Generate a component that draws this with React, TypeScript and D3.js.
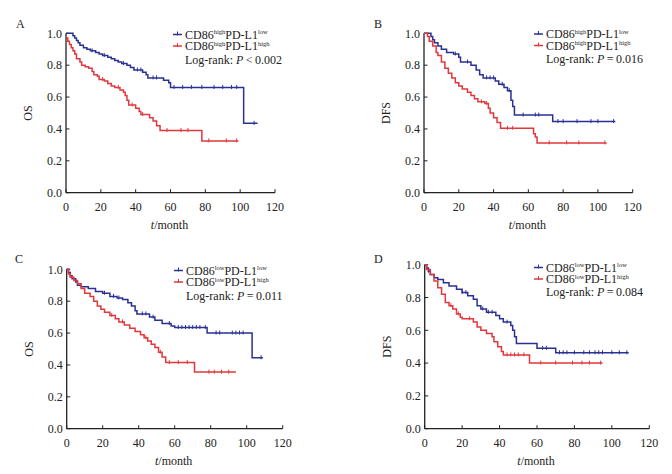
import React from "react";
import * as d3 from "d3";

// ---------- data ----------
const xTicks = [0, 20, 40, 60, 80, 100, 120];
const yTicks = [0, 0.2, 0.4, 0.6, 0.8, 1.0];

// Panel A (OS, CD86 high)
const aBlue: [number, number][] = [[0,1],[4,0.985],[5,0.97],[6,0.955],[7,0.94],[8,0.925],[10,0.91],[12,0.9],[14,0.89],[17,0.88],[19,0.87],[21,0.86],[24,0.85],[26,0.84],[28,0.83],[30,0.82],[32,0.81],[35,0.8],[37,0.785],[39,0.77],[44,0.755],[46,0.74],[47,0.72],[56,0.705],[59,0.69],[60,0.66],[102,0.435]];
const aBlueEnd = 110;
const aBlueCens = [15,22,33,41,43,50,52,62,67,72,78,85,90,95,98,108];
const aRed: [number, number][] = [[0,0.97],[1,0.95],[2,0.93],[3,0.91],[4,0.89],[5,0.87],[6,0.84],[8,0.82],[9,0.8],[11,0.79],[13,0.78],[15,0.76],[16,0.74],[18,0.73],[19,0.71],[22,0.7],[24,0.685],[26,0.67],[28,0.66],[31,0.645],[33,0.63],[34,0.61],[35,0.58],[36,0.55],[40,0.53],[42,0.51],[43,0.49],[48,0.47],[50,0.45],[52,0.42],[54,0.39],[78,0.325]];
const aRedEnd = 99;
const aRedCens = [21,30,38,44,58,66,70,82,92,98];

// Panel B (DFS, CD86 high)
const bBlue: [number, number][] = [[0,1],[4,0.98],[5,0.96],[6,0.94],[8,0.92],[10,0.9],[13,0.88],[17,0.87],[20,0.85],[21,0.82],[27,0.8],[30,0.77],[32,0.74],[34,0.72],[41,0.7],[43,0.68],[46,0.66],[48,0.64],[50,0.58],[51,0.54],[52,0.487],[74,0.446]];
const bBlueEnd = 110;
const bBlueCens = [18,25,36,38,40,45,49,57,64,66,77,80,88,96,100,109];
const bRed: [number, number][] = [[0,1],[2,0.98],[3,0.95],[5,0.92],[7,0.88],[8,0.86],[10,0.82],[12,0.78],[14,0.75],[16,0.72],[18,0.69],[20,0.67],[22,0.65],[25,0.63],[27,0.61],[29,0.59],[31,0.57],[35,0.56],[37,0.53],[38,0.5],[40,0.47],[42,0.44],[44,0.404],[63,0.37],[64,0.35],[65,0.312]];
const bRedEnd = 105;
const bRedCens = [33,36,48,51,72,82,89,104];

// Panel C (OS, CD86 low)
const cBlue: [number, number][] = [[0,1],[1,0.98],[2,0.96],[3,0.94],[5,0.92],[6,0.9],[8,0.89],[12,0.88],[16,0.86],[20,0.85],[24,0.83],[28,0.82],[31,0.81],[34,0.79],[36,0.77],[38,0.74],[39,0.72],[46,0.7],[49,0.68],[53,0.66],[58,0.645],[60,0.635],[78,0.6],[103,0.445]];
const cBlueEnd = 109;
const cBlueCens = [2,21,26,29,42,44,48,57,62,64,66,68,70,72,74,77,83,85,92,94,96,98,108];
const cRed: [number, number][] = [[0,1],[1,0.97],[2,0.95],[4,0.93],[6,0.91],[8,0.88],[10,0.85],[13,0.83],[15,0.8],[17,0.77],[19,0.75],[21,0.73],[24,0.71],[27,0.69],[29,0.67],[32,0.65],[35,0.63],[38,0.61],[41,0.59],[43,0.57],[45,0.55],[47,0.53],[49,0.51],[51,0.48],[53,0.45],[55,0.415],[71,0.355]];
const cRedEnd = 94;
const cRedCens = [3,25,31,44,52,57,62,67,79,82,86,90];

// Panel D (DFS, CD86 low)
const dBlue: [number, number][] = [[0,1],[1,0.98],[2,0.96],[3,0.94],[5,0.92],[7,0.91],[10,0.89],[13,0.87],[17,0.85],[20,0.83],[23,0.81],[26,0.79],[28,0.75],[30,0.73],[33,0.71],[38,0.69],[40,0.67],[42,0.65],[46,0.63],[47,0.6],[48,0.56],[49,0.52],[60,0.49],[70,0.463]];
const dBlueEnd = 109;
const dBlueCens = [2,20,22,31,34,36,44,63,65,72,74,76,80,85,88,91,93,95,100,104,108];
const dRed: [number, number][] = [[0,1],[1,0.97],[3,0.94],[5,0.9],[7,0.86],[9,0.82],[11,0.77],[13,0.75],[15,0.73],[17,0.7],[19,0.68],[20,0.67],[26,0.65],[28,0.62],[30,0.6],[33,0.58],[36,0.56],[37,0.53],[39,0.5],[41,0.47],[42,0.45],[56,0.4]];
const dRedEnd = 95;
const dRedCens = [14,18,24,44,46,48,50,53,62,70,79,84,88,94];

// ---------- layout ----------
const BLUE = "#2a3192";
const RED = "#e0383d";
const FONT = "'Liberation Serif', 'Times New Roman', serif";

type Panel = {
  letter: string; lx: number; ly: number;
  x0: number; x1: number; yb: number; yt: number;
  ylab: string; sup1: string; cmp: string; pv: string;
  legX: number; legY: number[];
  blue: [number, number][]; blueEnd: number; blueCens: number[];
  red: [number, number][]; redEnd: number; redCens: number[];
};

const panels: Panel[] = [
  { letter: "A", lx: 16, ly: 28, x0: 66, x1: 275, yb: 192.7, yt: 33.3, ylab: "OS", sup1: "high", cmp: "<", pv: "0.002",
    legX: 173, legY: [34.5, 46, 60],
    blue: aBlue, blueEnd: aBlueEnd, blueCens: aBlueCens, red: aRed, redEnd: aRedEnd, redCens: aRedCens },
  { letter: "B", lx: 374, ly: 28, x0: 424, x1: 632.7, yb: 192.7, yt: 33.3, ylab: "DFS", sup1: "high", cmp: "=", pv: "0.016",
    legX: 534, legY: [34, 45.5, 59],
    blue: bBlue, blueEnd: bBlueEnd, blueCens: bBlueCens, red: bRed, redEnd: bRedEnd, redCens: bRedCens },
  { letter: "C", lx: 15, ly: 263, x0: 66.7, x1: 282.7, yb: 428.7, yt: 269.3, ylab: "OS", sup1: "low", cmp: "=", pv: "0.011",
    legX: 174, legY: [270.5, 282, 296],
    blue: cBlue, blueEnd: cBlueEnd, blueCens: cBlueCens, red: cRed, redEnd: cRedEnd, redCens: cRedCens },
  { letter: "D", lx: 374, ly: 263, x0: 424.7, x1: 649.3, yb: 428.7, yt: 264.7, ylab: "DFS", sup1: "low", cmp: "=", pv: "0.084",
    legX: 534, legY: [267.5, 279, 292],
    blue: dBlue, blueEnd: dBlueEnd, blueCens: dBlueCens, red: dRed, redEnd: dRedEnd, redCens: dRedCens },
];

function survAt(steps: [number, number][], t: number) {
  let s = steps[0][1];
  for (const [tt, v] of steps) if (tt <= t) s = v;
  return s;
}

function Curve({ steps, end, cens, color, x, y }: any) {
  const pts: [number, number][] = [...steps, [end, steps[steps.length - 1][1]]];
  const line = d3.line<[number, number]>().x(d => x(d[0])).y(d => y(d[1])).curve(d3.curveStepAfter);
  return (
    <g>
      <path d={line(pts) || ""} fill="none" stroke={color} strokeWidth={1.5} />
      {cens.map((c: number, i: number) => (
        <line key={i} x1={x(c)} x2={x(c)} y1={y(survAt(steps, c)) - 2.5} y2={y(survAt(steps, c)) + 1.5} stroke={color} strokeWidth={1} />
      ))}
    </g>
  );
}

function PanelView({ p }: { p: Panel }) {
  const x = d3.scaleLinear().domain([0, 120]).range([p.x0, p.x1]);
  const y = d3.scaleLinear().domain([0, 1]).range([p.yb, p.yt]);
  const fs = 12;
  return (
    <g fontFamily={FONT} fill="#222">
      <text x={p.lx} y={p.ly} fontSize={12}>{p.letter}</text>
      <line x1={p.x0} x2={p.x1} y1={p.yb} y2={p.yb} stroke="#222" strokeWidth={1.3} />
      <line x1={p.x0} x2={p.x0} y1={p.yb} y2={p.yt} stroke="#222" strokeWidth={1.3} />
      {xTicks.map(t => (
        <g key={t}>
          <line x1={x(t)} x2={x(t)} y1={p.yb} y2={p.yb - 3.5} stroke="#222" strokeWidth={1} />
          <text x={x(t)} y={p.yb + 18} fontSize={fs} textAnchor="middle">{t}</text>
        </g>
      ))}
      {yTicks.map(t => (
        <g key={t}>
          <line x1={p.x0} x2={p.x0 + 3.5} y1={y(t)} y2={y(t)} stroke="#222" strokeWidth={1} />
          <text x={p.x0 - 4} y={y(t) + 4.2} fontSize={fs} textAnchor="end">{t.toFixed(1)}</text>
        </g>
      ))}
      <text transform={`translate(${p.x0 - 34},${(p.yb + p.yt) / 2}) rotate(-90)`} fontSize={fs} textAnchor="middle">{p.ylab}</text>
      <text x={(p.x0 + p.x1) / 2 - 1} y={p.yb + 36} fontSize={fs} textAnchor="middle">
        <tspan fontStyle="italic">t</tspan>/month
      </text>
      <Curve steps={p.blue} end={p.blueEnd} cens={p.blueCens} color={BLUE} x={x} y={y} />
      <Curve steps={p.red} end={p.redEnd} cens={p.redCens} color={RED} x={x} y={y} />
      {[0, 1].map(i => {
        const col = i === 0 ? BLUE : RED;
        const ly = p.legY[i];
        return (
          <g key={i}>
            <line x1={p.legX} x2={p.legX + 9} y1={ly} y2={ly} stroke={col} strokeWidth={1.5} />
            <line x1={p.legX + 4.5} x2={p.legX + 4.5} y1={ly - 3} y2={ly + 1} stroke={col} strokeWidth={1} />
            <text x={p.legX + 12} y={ly + 4} fontSize={12}>
              CD86<tspan fontSize={6.5} dy={-4.5}>{p.sup1}</tspan><tspan dy={4.5}>PD-L1</tspan><tspan fontSize={6.5} dy={-4.5}>{i === 0 ? "low" : "high"}</tspan>
            </text>
          </g>
        );
      })}
      <text x={p.legX + 12} y={p.legY[2] + 4} fontSize={12}>
        Log-rank: <tspan fontStyle="italic">P</tspan>{p.cmp === "<" ? "\u2009<\u2009" : "\u2009=\u2009"}{p.pv}
      </text>
    </g>
  );
}

export default function App() {
  return (
    <svg width={672} height={474} style={{ position: "absolute", left: 0, top: 0, background: "#fff" }}>
      <rect width={672} height={474} fill="#fff" />
      {panels.map(p => <PanelView key={p.letter} p={p} />)}
    </svg>
  );
}
